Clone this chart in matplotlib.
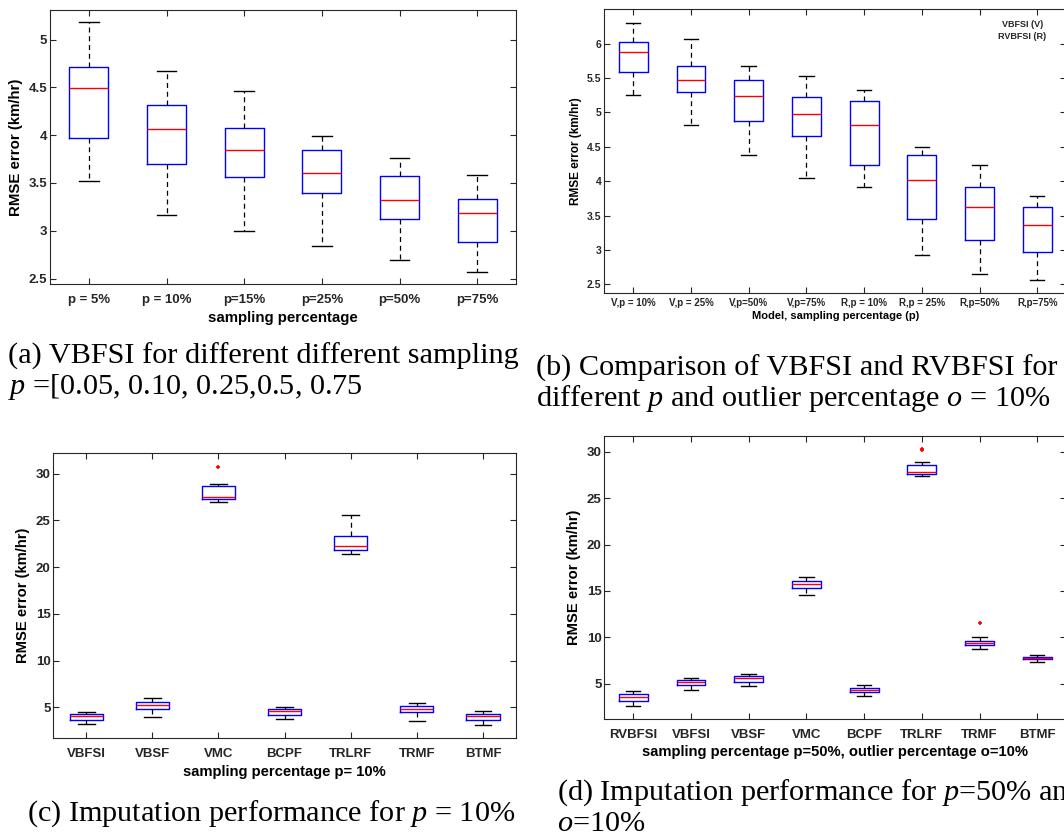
import matplotlib.pyplot as plt
from matplotlib.ticker import FuncFormatter

## (a) VBFSI, different sampling percentages
a_labels = ['p = 5%', 'p = 10%', 'p=15%', 'p=25%', 'p=50%', 'p=75%']
a_lo = [3.52, 3.16, 3.00, 2.84, 2.69, 2.57]
a_q1 = [3.97, 3.70, 3.56, 3.39, 3.12, 2.88]
a_med = [4.49, 4.07, 3.84, 3.60, 3.32, 3.19]
a_q3 = [4.71, 4.32, 4.08, 3.84, 3.57, 3.33]
a_hi = [5.18, 4.67, 4.46, 3.99, 3.76, 3.58]

## (b) VBFSI vs RVBFSI
b_labels = ['V,p = 10%', 'V,p = 25%', 'V,p=50%', 'V,p=75%',
            'R,p = 10%', 'R,p = 25%', 'R,p=50%', 'R,p=75%']
b_lo = [5.25, 4.82, 4.38, 4.05, 3.91, 2.93, 2.65, 2.57]
b_q1 = [5.59, 5.30, 4.88, 4.65, 4.24, 3.45, 3.15, 2.97]
b_med = [5.88, 5.47, 5.24, 4.97, 4.82, 4.02, 3.63, 3.36]
b_q3 = [6.03, 5.68, 5.47, 5.22, 5.16, 4.38, 3.91, 3.62]
b_hi = [6.30, 6.07, 5.67, 5.53, 5.32, 4.49, 4.23, 3.79]

## (c) imputation, p = 10%
c_labels = ['VBFSI', 'VBSF', 'VMC', 'BCPF', 'TRLRF', 'TRMF', 'BTMF']
c_lo = [3.19, 3.94, 26.93, 3.72, 21.36, 3.58, 3.16]
c_q1 = [3.65, 4.79, 27.32, 4.18, 21.82, 4.47, 3.65]
c_med = [4.04, 5.28, 27.50, 4.61, 22.25, 4.82, 4.04]
c_q3 = [4.29, 5.57, 28.64, 4.82, 23.36, 5.18, 4.29]
c_hi = [4.54, 6.03, 28.93, 5.04, 25.54, 5.50, 4.57]
c_out = [[], [], [30.7], [], [], [], []]

## (d) imputation, p = 50%, o = 10%
d_labels = ['RVBFSI', 'VBFSI', 'VBSF', 'VMC', 'BCPF', 'TRLRF', 'TRMF', 'BTMF']
d_lo = [2.59, 4.32, 4.75, 14.57, 3.71, 27.41, 8.77, 7.34]
d_q1 = [3.13, 4.82, 5.22, 15.34, 4.07, 27.63, 9.20, 7.66]
d_med = [3.56, 5.14, 5.57, 15.78, 4.32, 27.81, 9.42, 7.80]
d_q3 = [3.89, 5.43, 5.83, 16.10, 4.53, 28.53, 9.60, 7.91]
d_hi = [4.17, 5.65, 6.04, 16.53, 4.86, 28.92, 10.03, 8.09]
d_out = [[], [], [], [], [], [30.15, 30.35], [11.55], []]

dark = '#262626'
plt.rcParams['font.family'] = ['Liberation Sans', 'DejaVu Sans']
plt.rcParams['font.weight'] = 'bold'
plt.rcParams['text.color'] = dark
plt.rcParams['mathtext.fontset'] = 'custom'
plt.rcParams['mathtext.rm'] = 'Liberation Serif:weight=normal'
plt.rcParams['mathtext.it'] = 'Liberation Serif:style=italic:weight=normal'


def boxes(ax, lo, q1, med, q3, hi, out=None):
    stats = []
    for i in range(len(med)):
        stats.append(dict(whislo=lo[i], q1=q1[i], med=med[i], q3=q3[i],
                          whishi=hi[i], fliers=out[i] if out else []))
    ax.bxp(stats, positions=range(1, len(med) + 1), widths=0.5, capwidths=0.25,
           boxprops=dict(color='blue', lw=1.0),
           medianprops=dict(color='red', lw=1.0),
           whiskerprops=dict(color='black', lw=0.9, ls=(0, (4, 3))),
           capprops=dict(color='black', lw=1.0),
           flierprops=dict(marker='+', markeredgecolor='red', markersize=3.5,
                           markeredgewidth=1.2))


def style(ax, labels, xlim, ylim, yticks, fs, xfs, xpad, ylabel, xlabel, lfs, lpad):
    ax.set_xlim(xlim)
    ax.set_ylim(ylim)
    ax.set_xticks(range(1, len(labels) + 1))
    ax.set_xticklabels(labels)
    ax.set_yticks(yticks)
    ax.yaxis.set_major_formatter(FuncFormatter(lambda v, p: '%g' % v))
    ax.tick_params(direction='in', top=True, right=True, length=4, width=0.8,
                   color=dark, labelcolor=dark, labelsize=fs, pad=2)
    ax.tick_params(axis='x', labelsize=xfs, pad=xpad)
    for s in ax.spines.values():
        s.set_color(dark)
        s.set_linewidth(0.8)
    ax.set_ylabel(ylabel, fontsize=lfs, fontweight='bold', labelpad=4)
    ax.set_xlabel(xlabel, fontsize=lfs, fontweight='bold', labelpad=lpad)


fig = plt.figure(figsize=(10.64, 8.36), dpi=100)

ax1 = fig.add_axes([0.047, 0.660, 0.438, 0.328])
boxes(ax1, a_lo, a_q1, a_med, a_q3, a_hi)
style(ax1, a_labels, (0.5, 6.5), (2.44, 5.31), [2.5, 3, 3.5, 4, 4.5, 5],
      9.5, 9.5, 7.3, 'RMSE error (km/hr)', 'sampling percentage', 10.8, 3.5)

ax2 = fig.add_axes([0.568, 0.650, 0.434, 0.339])
boxes(ax2, b_lo, b_q1, b_med, b_q3, b_hi)
style(ax2, b_labels, (0.5, 8.5), (2.38, 6.5), [2.5, 3, 3.5, 4, 4.5, 5, 5.5, 6],
      7.5, 7, 3.8, 'RMSE error (km/hr)', 'Model, sampling percentage (p)', 8, 2)
ax2.yaxis.label.set_fontsize(8.5)
ax2.text(0.905, 0.925, 'VBFSI (V)\nRVBFSI (R)', transform=ax2.transAxes,
         ha='center', va='center', fontsize=6.5, linespacing=1.35)

ax3 = fig.add_axes([0.050, 0.117, 0.435, 0.341])
boxes(ax3, c_lo, c_q1, c_med, c_q3, c_hi, c_out)
style(ax3, c_labels, (0.5, 7.5), (1.7, 32.2), [5, 10, 15, 20, 25, 30],
      9.5, 9.5, 7.3, 'RMSE error (km/hr)', 'sampling percentage p= 10%', 10.6, 3.5)

ax4 = fig.add_axes([0.568, 0.140, 0.434, 0.339])
boxes(ax4, d_lo, d_q1, d_med, d_q3, d_hi, d_out)
style(ax4, d_labels, (0.5, 8.5), (1.2, 31.75), [5, 10, 15, 20, 25, 30],
      9.5, 9.5, 7.0, 'RMSE error (km/hr)',
      'sampling percentage p=50%, outlier percentage o=10%', 10.6, 3.0)

## Captions
cap = dict(family='Liberation Serif', fontweight='normal', fontsize=21.8,
           color='black', va='center', ha='left')
H = 836.
fig.text(8 / 1064., 1 - 356 / H, '(a) VBFSI for different different sampling', **cap)
fig.text(8 / 1064., 1 - 387 / H, '$p$ =[0.05, 0.10, 0.25,0.5, 0.75', **cap)
fig.text(536 / 1064., 1 - 368 / H, '(b) Comparison of VBFSI and RVBFSI for', **cap)
fig.text(536 / 1064., 1 - 399 / H, 'different $p$ and outlier percentage $o$ = 10%', **cap)
fig.text(27 / 1064., 1 - 814 / H, '(c) Imputation performance for $p$ = 10%', **cap)
fig.text(557 / 1064., 1 - 793 / H, '(d) Imputation performance for $p$=50% and', **cap)
fig.text(557 / 1064., 1 - 824 / H, '$o$=10%', **cap)

fig.savefig('out.png', dpi=100)
